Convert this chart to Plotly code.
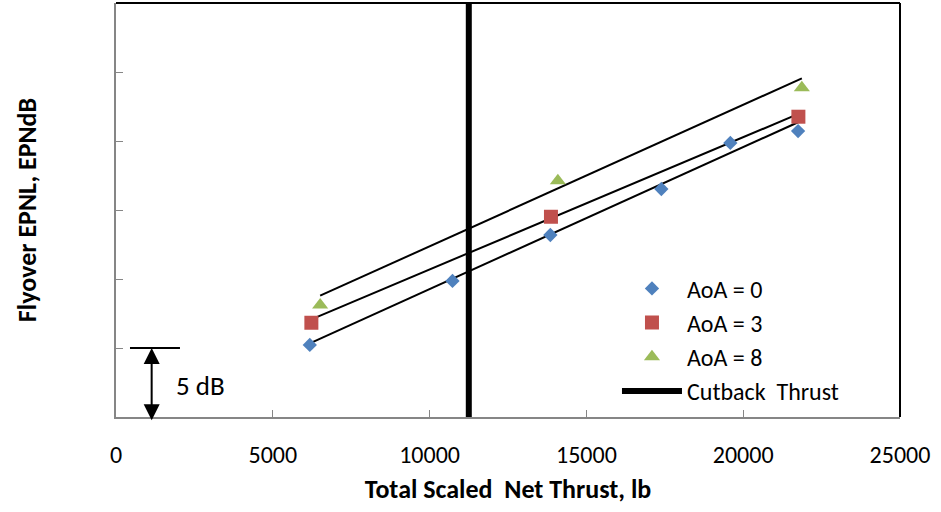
import plotly.graph_objects as go

# ---- data ----
aoa0_x = [6180, 10730, 13850, 17390, 19590, 21750]
aoa0_y = [5.22, 9.86, 13.19, 16.52, 19.86, 20.72]

aoa3_x = [6230, 13870, 21760]
aoa3_y = [6.83, 14.51, 21.76]

aoa8_x = [6510, 14090, 21870]
aoa8_y = [8.12, 17.12, 23.86]

# linear trend lines (end points)
trend0_x = [6180, 21750]
trend0_y = [5.34, 21.36]
trend3_x = [6230, 21760]
trend3_y = [7.08, 21.96]
trend8_x = [6510, 21870]
trend8_y = [8.79, 24.54]

cutback_x = [11250, 11250]
cutback_y = [0, 30]

x_ticks = [0, 5000, 10000, 15000, 20000, 25000]
x_tick_labels = ["0", "5000", "10000", "15000", "20000", "25000"]
y_ticks = [0, 5, 10, 15, 20, 25, 30]

FONT = "Carlito, Calibri, Lato, sans-serif"
GRAY = "#868686"

fig = go.Figure()

for tx, ty in [(trend0_x, trend0_y), (trend3_x, trend3_y), (trend8_x, trend8_y)]:
    fig.add_trace(go.Scatter(x=tx, y=ty, mode="lines", showlegend=False,
                             line=dict(color="black", width=2), hoverinfo="skip"))

fig.add_trace(go.Scatter(x=aoa0_x, y=aoa0_y, mode="markers", name="AoA = 0",
                         marker=dict(symbol="diamond", size=11, color="#4F81BD")))
fig.add_trace(go.Scatter(x=aoa3_x, y=aoa3_y, mode="markers", name="AoA = 3",
                         marker=dict(symbol="square", size=14, color="#C0504D")))
fig.add_trace(go.Scatter(x=aoa8_x, y=aoa8_y, mode="markers", name="AoA = 8",
                         marker=dict(symbol="triangle-up", size=14, color="#9BBB59")))
fig.add_trace(go.Scatter(x=cutback_x, y=cutback_y, mode="lines", name="Cutback  Thrust",
                         line=dict(color="black", width=6)))

# plot-area border (top and right)
fig.add_shape(type="line", xref="paper", yref="paper", x0=0, x1=1, y0=1, y1=1,
              line=dict(color="black", width=2))
fig.add_shape(type="line", xref="paper", yref="paper", x0=1, x1=1, y0=0, y1=1,
              line=dict(color="black", width=2))

# 5 dB bracket
fig.add_shape(type="line", xref="x", yref="y", x0=446, x1=2040, y0=5, y1=5,
              line=dict(color="black", width=2))
fig.add_annotation(x=1137, y=5, ax=1137, ay=-0.35, axref="x", ayref="y",
                   xref="x", yref="y", text="", showarrow=True,
                   arrowside="end+start", arrowhead=2, arrowsize=1.6,
                   arrowwidth=2, arrowcolor="black")
fig.add_annotation(x=1850, y=2.25, xref="x", yref="y", text="5 dB",
                   showarrow=False, xanchor="left", yanchor="middle",
                   font=dict(family=FONT, size=27, color="black"))

fig.update_layout(
    width=941, height=512,
    margin=dict(l=116, r=41, t=3, b=95),
    paper_bgcolor="white", plot_bgcolor="white",
    font=dict(family=FONT, color="black"),
    legend=dict(x=0.639, y=0.364, xanchor="left", yanchor="top",
                bgcolor="rgba(0,0,0,0)", font=dict(family=FONT, size=24),
                tracegroupgap=0, itemwidth=60),
    xaxis=dict(range=[0, 25000], tickvals=x_ticks, ticktext=x_tick_labels,
               ticks="inside", ticklen=7,
               tickcolor=GRAY, showline=True, linecolor=GRAY, linewidth=2,
               showgrid=False, zeroline=False, tickfont=dict(size=24),
               ticklabelstandoff=15,
               title=dict(text="<b>Total Scaled  Net Thrust, lb</b>",
                          font=dict(size=26), standoff=12)),
    yaxis=dict(range=[0, 30], tickvals=y_ticks, ticks="inside", ticklen=7,
               tickcolor=GRAY, showline=True, linecolor=GRAY, linewidth=2,
               showgrid=False, zeroline=False, showticklabels=False,
               title=dict(text="<b>Flyover EPNL, EPNdB</b>",
                          font=dict(size=26), standoff=70)),
)

fig.write_html("out.html", config={"displayModeBar": False},
               post_script="document.body.style.margin='0';")
